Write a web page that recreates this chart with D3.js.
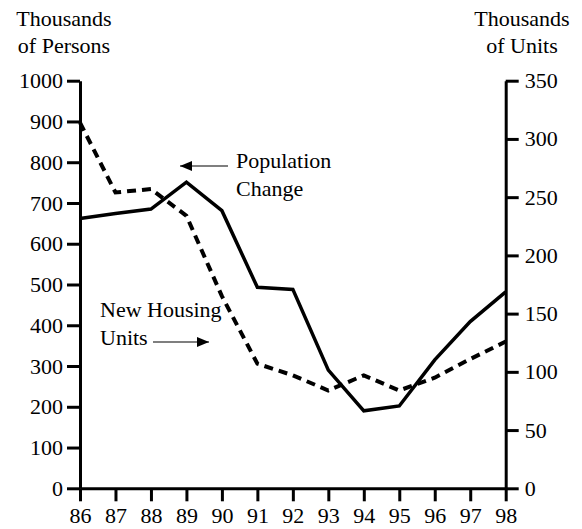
<!DOCTYPE html>
<html>
<head>
<meta charset="utf-8">
<script src="https://cdn.jsdelivr.net/npm/d3@7"></script>
<style>
  body { margin: 0; background: #fff; }
</style>
</head>
<body>
<svg id="chart"></svg>
<script>
// values
const years = [86, 87, 88, 89, 90, 91, 92, 93, 94, 95, 96, 97, 98];
const population = [662, 674, 685, 751, 681, 493, 488, 290, 190, 202, 315, 409, 482]; // thousands of persons
const housing = [314, 254, 257, 234, 165, 107, 97, 84, 97, 84, 95, 111, 126]; // thousands of units
const leftTicks = [0, 100, 200, 300, 400, 500, 600, 700, 800, 900, 1000];
const rightTicks = [0, 50, 100, 150, 200, 250, 300, 350];

const width = 582;
const height = 529;
const margin = { top: 80.7, right: 76.3, bottom: 40.7, left: 80 };
const serif = '"Liberation Serif", "Times New Roman", Times, serif';

const svg = d3.select('#chart')
  .attr('width', width)
  .attr('height', height)
  .attr('font-family', serif)
  .attr('font-size', 22);

const x = d3.scaleLinear()
  .domain([86, 98])
  .range([margin.left, width - margin.right]);

const yLeft = d3.scaleLinear()
  .domain([0, 1000])
  .range([height - margin.bottom, margin.top]);

const yRight = d3.scaleLinear()
  .domain([0, 350])
  .range([height - margin.bottom, margin.top]);

const styleAxis = (g) => {
  g.attr('font-family', serif).attr('font-size', 22);
  g.selectAll('path, line').attr('stroke', '#000').attr('stroke-width', 3);
  g.selectAll('text').attr('fill', '#000');
};

svg.append('g')
  .attr('transform', `translate(${ margin.left },0)`)
  .call(d3.axisLeft(yLeft).tickValues(leftTicks).tickSize(13).tickSizeOuter(0).tickPadding(4).tickFormat(d3.format('d')))
  .call(styleAxis);

svg.append('g')
  .attr('transform', `translate(${ width - margin.right },0)`)
  .call(d3.axisRight(yRight).tickValues(rightTicks).tickSize(13).tickSizeOuter(0).tickPadding(6).tickFormat(d3.format('d')))
  .call(styleAxis);

svg.append('g')
  .attr('transform', `translate(0,${ height - margin.bottom })`)
  .call(d3.axisBottom(x).tickValues(years).tickSize(13).tickSizeOuter(0).tickPadding(6).tickFormat(d3.format('d')))
  .call(styleAxis);

// axis titles
const titles = [
  { x: 64, lines: ['Thousands', 'of Persons'] },
  { x: 522, lines: ['Thousands', 'of Units'] }
];

titles.forEach((t) => {
  svg.append('text')
    .attr('text-anchor', 'middle')
    .selectAll('tspan')
    .data(t.lines)
    .enter()
      .append('tspan')
      .attr('x', t.x)
      .attr('y', (d, i) => 26 + i * 27)
      .text((d) => d);
});

// lines
const popLine = d3.line()
  .x((d, i) => x(years[i]))
  .y((d) => yLeft(d));

const houseLine = d3.line()
  .x((d, i) => x(years[i]))
  .y((d) => yRight(d));

svg.append('path')
  .datum(housing)
  .attr('d', houseLine)
  .attr('fill', 'none')
  .attr('stroke', '#000')
  .attr('stroke-width', 4)
  .attr('stroke-dasharray', '9,6');

svg.append('path')
  .datum(population)
  .attr('d', popLine)
  .attr('fill', 'none')
  .attr('stroke', '#000')
  .attr('stroke-width', 3.5);

// annotations with arrows
svg.append('defs')
  .append('marker')
  .attr('id', 'head')
  .attr('viewBox', '0 0 12 10')
  .attr('refX', 12)
  .attr('refY', 5)
  .attr('markerWidth', 12)
  .attr('markerHeight', 10)
  .attr('markerUnits', 'userSpaceOnUse')
  .attr('orient', 'auto')
  .append('path')
  .attr('d', 'M0,0L12,5L0,10Z')
  .attr('fill', '#000');

const notes = [
  { x: 236, y: 168, lines: ['Population', 'Change'], arrow: [228, 166, 180, 166] },
  { x: 100, y: 317, lines: ['New Housing', 'Units'], arrow: [153, 342, 209, 342] }
];

notes.forEach((n) => {
  svg.append('text')
    .selectAll('tspan')
    .data(n.lines)
    .enter()
      .append('tspan')
      .attr('x', n.x)
      .attr('y', (d, i) => n.y + i * 28)
      .text((d) => d);

  svg.append('line')
    .attr('x1', n.arrow[0])
    .attr('y1', n.arrow[1])
    .attr('x2', n.arrow[2])
    .attr('y2', n.arrow[3])
    .attr('stroke', '#000')
    .attr('stroke-width', 1.2)
    .attr('marker-end', 'url(#head)');
});
</script>
</body>
</html>
